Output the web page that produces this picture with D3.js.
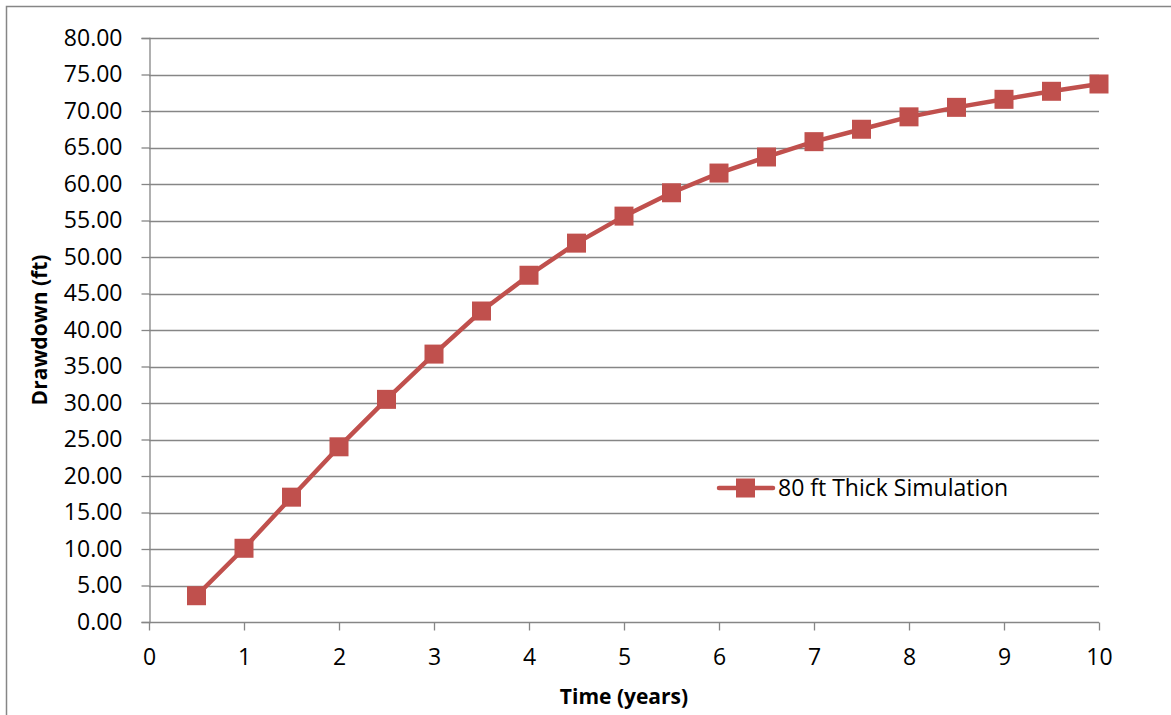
<!DOCTYPE html>
<html><head><meta charset="utf-8">
<script src="https://cdn.jsdelivr.net/npm/d3@7"></script>
<style>body{margin:0;background:#fff;}svg{display:block;font-family:"Open Sans",sans-serif;}</style>
</head><body><svg id="c" width="1171" height="715"></svg>
<script>
const times = [0.5,1,1.5,2,2.5,3,3.5,4,4.5,5,5.5,6,6.5,7,7.5,8,8.5,9,9.5,10];
const drawdown = [3.6,10.1,17.1,24.0,30.5,36.7,42.6,47.5,51.9,55.6,58.8,61.5,63.7,65.8,67.5,69.2,70.5,71.6,72.7,73.7];
const seriesName = "80 ft Thick Simulation";
const xTicks = [0,1,2,3,4,5,6,7,8,9,10];
const yTicks = [0,5,10,15,20,25,30,35,40,45,50,55,60,65,70,75,80];

const FONT = "'Open Sans',sans-serif";
const svg = d3.select("#c");
const color = "#C0504D";
const gridC = "#868686";
svg.append("path").attr("d","M6.5,715 L6.5,6.5 L1171,6.5").attr("fill","none").attr("stroke",gridC).attr("stroke-width",1.5);

const x = d3.scaleLinear().domain([0,10]).range([149,1099]);
const y = d3.scaleLinear().domain([0,80]).range([622,38]);

svg.append("g").selectAll("line").data(yTicks.filter(d=>d>0)).join("line")
  .attr("x1",x(0)).attr("x2",x(10)).attr("y1",d=>Math.round(y(d))+0.5).attr("y2",d=>Math.round(y(d))+0.5)
  .attr("stroke",gridC).attr("stroke-width",1.3);

const yAxis = svg.append("g").attr("transform",`translate(${x(0)+0.5},0)`)
  .call(d3.axisLeft(y).tickValues(yTicks).tickFormat(d3.format(".2f")).tickSize(8).tickPadding(19));
const xAxis = svg.append("g").attr("transform",`translate(0,${y(0)+0.5})`)
  .call(d3.axisBottom(x).tickValues(xTicks).tickFormat(d3.format("d")).tickSize(8).tickPadding(18));
[yAxis,xAxis].forEach(a=>{
  a.selectAll("path,line").attr("stroke",gridC).attr("stroke-width",1.3);
  a.selectAll("text").attr("font-size",23).attr("fill","#000").attr("font-family",FONT);
});
xAxis.select(".domain").attr("d",`M${x(0)},0H${x(10)}`);

svg.append("path").datum(times.map((t,i)=>[t,drawdown[i]]))
  .attr("d",d3.line().x(d=>x(d[0])).y(d=>y(d[1])))
  .attr("fill","none").attr("stroke",color).attr("stroke-width",4.5);
svg.append("g").selectAll("rect").data(times.map((t,i)=>[t,drawdown[i]])).join("rect")
  .attr("x",d=>x(d[0])-9.5).attr("y",d=>y(d[1])-9.5).attr("width",19).attr("height",19).attr("fill",color);

const ly = 488;
svg.append("line").attr("x1",719).attr("x2",773).attr("y1",ly).attr("y2",ly).attr("stroke",color).attr("stroke-width",4.5).attr("stroke-linecap","round");
svg.append("rect").attr("x",736).attr("y",ly-9.5).attr("width",19).attr("height",19).attr("fill",color);
svg.append("text").attr("x",778).attr("y",ly+8).attr("font-size",23).attr("font-family",FONT).text(seriesName);

svg.append("text").attr("x",624).attr("y",704).attr("text-anchor","middle").attr("font-size",21).attr("font-weight","bold").attr("font-family",FONT).text("Time (years)");
svg.append("text").attr("transform","translate(47,330) rotate(-90)").attr("text-anchor","middle").attr("font-size",21).attr("font-weight","bold").attr("font-family",FONT).text("Drawdown (ft)");
</script></body></html>
